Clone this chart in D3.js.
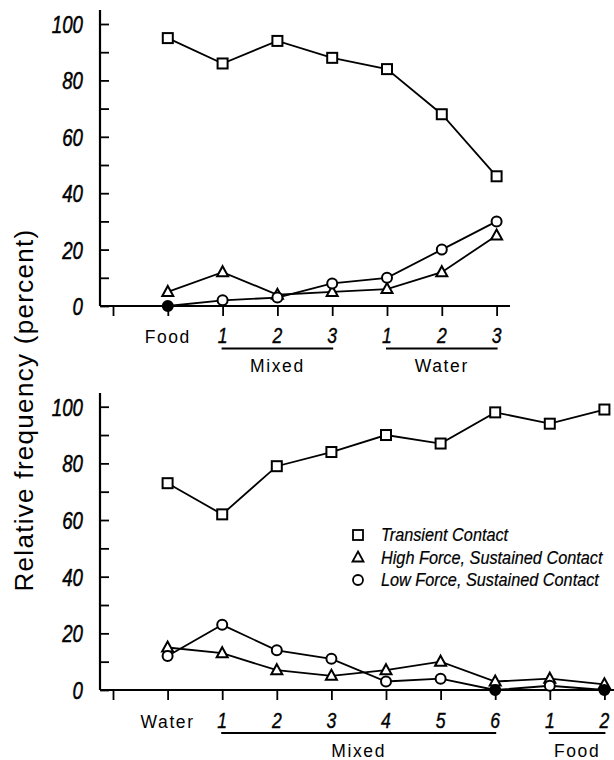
<!DOCTYPE html>
<html><head><meta charset="utf-8">
<script src="https://cdn.jsdelivr.net/npm/d3@7"></script>
<style>body{margin:0;background:#fff}svg{display:block}</style>
</head><body>
<svg id="c" width="614" height="760"></svg>
<script>
// ---------- DATA ----------
// Top panel: Food -> Mixed 1..3 -> Water 1..3 (tick 0 is an empty leading tick)
const topTickLabels = ["", "Food", "1", "2", "3", "1", "2", "3"];
const topTransient  = [95, 86, 94, 88, 84, 68, 46];
const topHighForce  = [5, 12, 4, 5, 6, 12, 25];
const topLowForce   = [0, 2, 3, 8, 10, 20, 30];
const topGroups = [{label: "Mixed", from: 2, to: 4}, {label: "Water", from: 5, to: 7}];

// Bottom panel: Water -> Mixed 1..6 -> Food 1..2
const botTickLabels = ["", "Water", "1", "2", "3", "4", "5", "6", "1", "2"];
const botTransient  = [73, 62, 79, 84, 90, 87, 98, 94, 99];
const botHighForce  = [15, 13, 7, 5, 7, 10, 3, 4, 2];
const botLowForce   = [12, 23, 14, 11, 3, 4, 0, 1.5, 0];
const botGroups = [{label: "Mixed", from: 2, to: 7}, {label: "Food", from: 8, to: 9}];

const seriesNames = ["Transient Contact", "High Force, Sustained Contact", "Low Force, Sustained Contact"];
const seriesSymbols = ["square", "triangle", "circle"];
const yTicksMajor = [0, 20, 40, 60, 80, 100];
const yTicksMinor = [10, 30, 50, 70, 90];

// ---------- DRAW ----------
const svg = d3.select("#c");
const txtFont = "'Liberation Sans',Arial,sans-serif";

// condensed italic text (narrow look of the original lettering)
function ctext(g, x, y, str, size, anchor, sx, weight) {
  return g.append("text").attr("transform", `translate(${x},${y}) scale(${sx},1)`)
    .attr("text-anchor", anchor).attr("font-family", txtFont).attr("font-style", "italic")
    .attr("font-size", size).attr("stroke", "#000").attr("stroke-width", weight || 0)
    .text(str);
}

function marker(g, type, x, y, onAxis) {
  const fill = onAxis ? "#000" : "#fff";
  if (type === "square") {
    g.append("rect").attr("x", x - 5).attr("y", y - 5).attr("width", 10).attr("height", 10)
      .attr("fill", fill).attr("stroke", "#000").attr("stroke-width", 2);
  } else if (type === "triangle") {
    g.append("path").attr("d", `M${x},${y - 6}L${x + 5.5},${y + 4}L${x - 5.5},${y + 4}Z`)
      .attr("fill", fill).attr("stroke", "#000").attr("stroke-width", 2);
  } else {
    g.append("circle").attr("cx", x).attr("cy", y).attr("r", 5)
      .attr("fill", fill).attr("stroke", "#000").attr("stroke-width", 2);
  }
}

function panel(cfg) {
  const g = svg.append("g");
  const n = cfg.tickLabels.length - 1;
  const x = d3.scaleLinear().domain([0, n]).range([cfg.x0, cfg.x0 + cfg.step * n]);
  const y = d3.scaleLinear().domain([0, 100]).range([cfg.yBottom, cfg.yTop]);

  // y axis (ticks inward)
  const ya = g.append("g").attr("transform", `translate(${cfg.axisX},0)`)
    .call(d3.axisRight(y).tickValues(yTicksMajor.concat(yTicksMinor)).tickSize(9).tickFormat(""));
  ya.select(".domain").remove();
  ya.selectAll("line").attr("stroke-width", 1.8);
  g.append("line").attr("x1", cfg.axisX).attr("x2", cfg.axisX)
    .attr("y1", cfg.axisTop).attr("y2", y(0)).attr("stroke", "#000").attr("stroke-width", 2.2);
  yTicksMajor.forEach(d => ctext(g, cfg.axisX - 17, y(d) + 9, d, 24, "end", 0.78, 0.5));

  // x axis (ticks down)
  const xa = g.append("g").attr("transform", `translate(0,${y(0)})`)
    .call(d3.axisBottom(x).tickValues(d3.range(0, n + 1)).tickSize(10).tickFormat(""));
  xa.select(".domain").remove();
  xa.selectAll("line").attr("stroke-width", 1.8);
  g.append("line").attr("x1", cfg.axisX).attr("x2", cfg.axisRight)
    .attr("y1", y(0)).attr("y2", y(0)).attr("stroke", "#000").attr("stroke-width", 2.2);

  cfg.tickLabels.forEach((t, i) => {
    if (!t) return;
    if (/^\d+$/.test(t)) {
      ctext(g, x(i), cfg.labelY, t, 22, "middle", 0.8, 0.4);
    } else {
      g.append("text").attr("x", x(i)).attr("y", cfg.labelY).attr("text-anchor", "middle")
        .attr("font-family", txtFont).attr("font-size", 17.5).attr("letter-spacing", 1.6).text(t);
    }
  });
  cfg.groups.forEach(gr => {
    g.append("line").attr("x1", x(gr.from) - 1).attr("x2", x(gr.to) + 1)
      .attr("y1", cfg.underlineY).attr("y2", cfg.underlineY).attr("stroke", "#000").attr("stroke-width", 1.8);
    g.append("text").attr("x", (x(gr.from) + x(gr.to)) / 2).attr("y", cfg.groupY)
      .attr("text-anchor", "middle").attr("font-family", txtFont).attr("font-size", 17.5)
      .attr("letter-spacing", 1.6).text(gr.label);
  });

  // series
  const line = d3.line().x((d, i) => x(i + 1)).y(d => y(d));
  cfg.series.forEach(s => {
    g.append("path").attr("d", line(s)).attr("fill", "none").attr("stroke", "#000").attr("stroke-width", 1.8);
  });
  cfg.series.forEach((s, k) => {
    s.forEach((v, i) => marker(g, seriesSymbols[k], x(i + 1), y(v), v === 0));
  });
}

panel({
  tickLabels: topTickLabels, groups: topGroups,
  series: [topTransient, topHighForce, topLowForce],
  x0: 113, step: 54.8, axisX: 100, axisRight: 510, axisTop: 10,
  yTop: 24, yBottom: 306, labelY: 343, underlineY: 348.5, groupY: 372
});
panel({
  tickLabels: botTickLabels, groups: botGroups,
  series: [botTransient, botHighForce, botLowForce],
  x0: 113, step: 54.6, axisX: 100, axisRight: 614, axisTop: 393,
  yTop: 406.7, yBottom: 690, labelY: 728, underlineY: 733, groupY: 757
});

// y axis title
svg.append("text").attr("transform", "translate(33,410) rotate(-90)")
  .attr("text-anchor", "middle").attr("font-family", txtFont).attr("font-size", 26)
  .attr("letter-spacing", 1.3).text("Relative frequency (percent)");

// legend
const leg = svg.append("g");
const legY = d3.scalePoint().domain(seriesNames).range([535, 580]);
seriesNames.forEach((name, k) => {
  const cy = legY(name);
  if (seriesSymbols[k] === "square") {
    leg.append("rect").attr("x", 353).attr("y", cy - 5).attr("width", 10).attr("height", 10)
      .attr("fill", "#fff").attr("stroke", "#000").attr("stroke-width", 1.8);
  } else if (seriesSymbols[k] === "triangle") {
    leg.append("path").attr("d", `M358,${cy - 6}L363.5,${cy + 4}L352.5,${cy + 4}Z`)
      .attr("fill", "#fff").attr("stroke", "#000").attr("stroke-width", 1.8);
  } else {
    leg.append("circle").attr("cx", 358).attr("cy", cy).attr("r", 5)
      .attr("fill", "#fff").attr("stroke", "#000").attr("stroke-width", 1.8);
  }
  ctext(leg, 381, cy + 6, name, 18.5, "start", 0.88, 0.2);
});
</script>
</body></html>
